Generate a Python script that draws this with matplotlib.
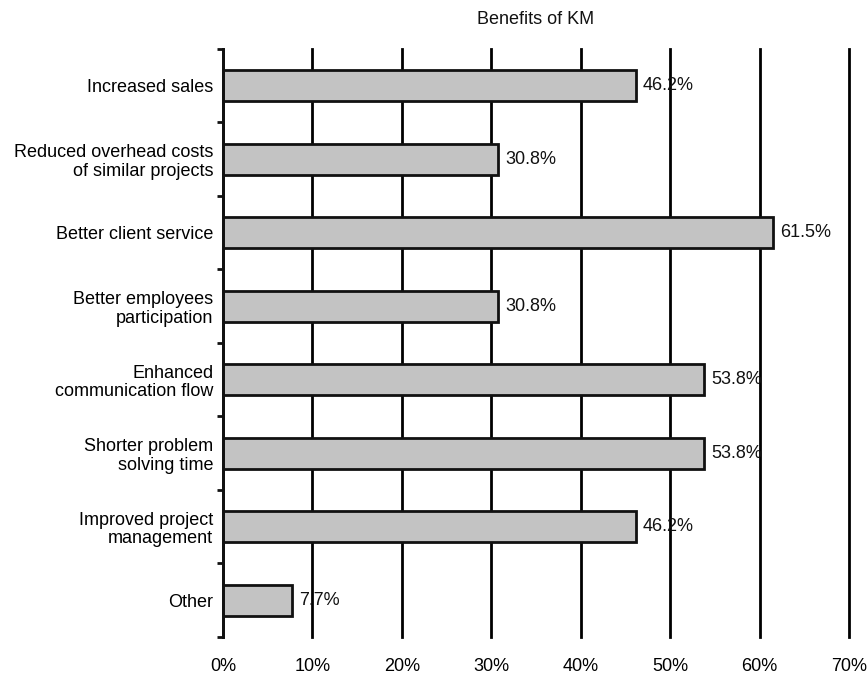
import matplotlib
matplotlib.use("Agg")
import matplotlib.pyplot as plt
from matplotlib import font_manager

# survey results: share of respondents naming each KM benefit
benefits = [
    "Increased sales",
    "Reduced overhead costs\nof similar projects",
    "Better client service",
    "Better employees\nparticipation",
    "Enhanced\ncommunication flow",
    "Shorter problem\nsolving time",
    "Improved project\nmanagement",
    "Other",
]
shares = [46.2, 30.8, 61.5, 30.8, 53.8, 53.8, 46.2, 7.7]
xticks = [0, 10, 20, 30, 40, 50, 60, 70]

names = {f.name for f in font_manager.fontManager.ttflist}
fam = "Liberation Sans Narrow" if "Liberation Sans Narrow" in names else "Liberation Sans"
plt.rcParams["font.family"] = [fam, "DejaVu Sans"]
plt.rcParams["font.size"] = 13
plt.rcParams["text.color"] = "#111111"

fig = plt.figure(figsize=(8.67, 6.82), dpi=100)
ax = fig.add_axes([0.2572, 0.066, 0.9792 - 0.2572, 0.9282 - 0.066])

pos = list(range(len(benefits)))
for x in xticks:
    ax.axvline(x, color="black", lw=2, zorder=1, clip_on=False)
ax.barh(pos, shares, height=0.42, color="#c3c3c3", edgecolor="#111111",
        linewidth=2, zorder=2)

for p, v in zip(pos, shares):
    ax.annotate(f"{v:.1f}%", xy=(v, p), xytext=(5, 0), textcoords="offset points",
                ha="left", va="center", zorder=3)

ax.set_xlim(0, 70)
ax.set_ylim(len(benefits) - 0.5, -0.5)

# category labels centred on bars, ticks on the boundaries
ax.set_yticks(pos)
ax.set_yticklabels(benefits, linespacing=1.1)
ax.tick_params(axis="y", which="major", length=0, pad=7)
ax.set_yticks([p - 0.5 for p in pos] + [len(benefits) - 0.5], minor=True)
ax.tick_params(axis="y", which="minor", length=4, width=2, color="#111111")

ax.set_xticks(xticks)
ax.set_xticklabels([f"{t}%" for t in xticks])
ax.tick_params(axis="x", length=0, pad=15)

for s in ["top", "right", "bottom"]:
    ax.spines[s].set_visible(False)
ax.spines["left"].set_linewidth(2)
ax.spines["left"].set_color("#111111")

fig.text(0.618, 0.972, "Benefits of KM", ha="center", va="center")

fig.savefig("out.png", dpi=100)
